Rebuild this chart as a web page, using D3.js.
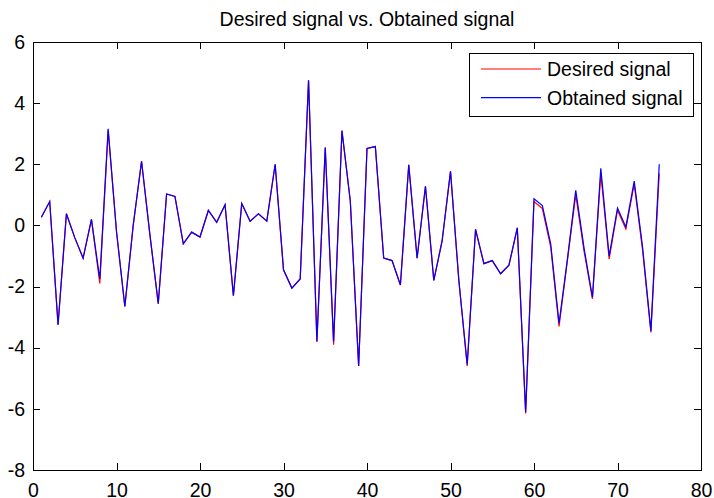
<!DOCTYPE html>
<html>
<head>
<meta charset="utf-8">
<script src="https://cdn.jsdelivr.net/npm/d3@7"></script>
<style>
  html, body { margin: 0; padding: 0; background: #fff; }
  svg { display: block; font-family: "Liberation Sans", Arial, sans-serif; }
</style>
</head>
<body>
<svg id="chart" width="714" height="498"></svg>
<script>
/* ── Data ────────────────────────────────────────── */
const sampleIndex = [
   1,  2,  3,  4,  5,  6,  7,  8,  9, 10, 11, 12, 13, 14, 15,
  16, 17, 18, 19, 20, 21, 22, 23, 24, 25, 26, 27, 28, 29, 30,
  31, 32, 33, 34, 35, 36, 37, 38, 39, 40, 41, 42, 43, 44, 45,
  46, 47, 48, 49, 50, 51, 52, 53, 54, 55, 56, 57, 58, 59, 60,
  61, 62, 63, 64, 65, 66, 67, 68, 69, 70, 71, 72, 73, 74, 75
];

const desiredSignal = [
   0.27,  0.78, -3.25,  0.38, -0.40, -1.07,  0.20, -1.90,  3.10, -0.20,
  -2.65,  0.00,  2.10, -0.30, -2.56,  1.03,  0.95, -0.60, -0.22, -0.38,
   0.49,  0.10,  0.68, -2.30,  0.72,  0.14,  0.38,  0.14,  2.00, -1.45,
  -2.05, -1.75,  4.75, -3.80,  2.55, -3.90,  3.10,  0.80, -4.60,  2.52,
   2.58, -1.07, -1.15, -1.95,  1.98, -1.07,  1.28, -1.80, -0.50,  1.77,
  -1.80, -4.60, -0.13, -1.25, -1.15, -1.58, -1.30, -0.08, -6.15,  0.78,
   0.55, -0.70, -3.30, -1.15,  1.00, -0.85, -2.40,  1.70, -1.10,  0.50,
  -0.12,  1.35, -0.80, -3.50,  1.70
];

const obtainedSignal = [
   0.27,  0.78, -3.25,  0.38, -0.40, -1.07,  0.20, -1.75,  3.16, -0.20,
  -2.65,  0.00,  2.10, -0.30, -2.56,  1.03,  0.95, -0.60, -0.22, -0.38,
   0.49,  0.10,  0.68, -2.30,  0.72,  0.14,  0.38,  0.14,  2.00, -1.45,
  -2.05, -1.75,  4.75, -3.80,  2.55, -3.80,  3.10,  0.80, -4.60,  2.52,
   2.58, -1.07, -1.15, -1.95,  1.98, -1.07,  1.28, -1.80, -0.50,  1.77,
  -1.80, -4.55, -0.13, -1.25, -1.15, -1.58, -1.30, -0.08, -6.10,  0.87,
   0.65, -0.60, -3.20, -1.10,  1.15, -0.75, -2.35,  1.87, -1.00,  0.57,
  -0.05,  1.45, -0.70, -3.45,  2.00
];

const xTicks = [0, 10, 20, 30, 40, 50, 60, 70, 80];
const yTicks = [-8, -6, -4, -2, 0, 2, 4, 6];

const seriesNames  = ["Desired signal", "Obtained signal"];
const seriesColors = ["#ff0000", "#0000ff"];

/* ── Layout ─────────────────────────────────────── */
const svg = d3.select("#chart");
const plotLeft = 33, plotRight = 701, plotTop = 42, plotBottom = 470;
const tickLen = 7;
const fontSize = 19.5;
const plainNumber = d => String(d);   // hyphen minus, like the reference

const x = d3.scaleLinear().domain([0, 80]).range([plotLeft, plotRight]);
const y = d3.scaleLinear().domain([-8, 6]).range([plotBottom, plotTop]);

/* ── Axes box with inward ticks on all sides ───── */
svg.append("g")
    .attr("transform", `translate(0,${plotBottom})`)
    .call(d3.axisBottom(x).tickValues(xTicks).tickFormat(plainNumber)
        .tickSizeInner(-tickLen).tickSizeOuter(0).tickPadding(13))
    .call(g => g.select(".domain").remove());

svg.append("g")
    .attr("transform", `translate(0,${plotTop})`)
    .call(d3.axisTop(x).tickValues(xTicks).tickSizeInner(-tickLen).tickSizeOuter(0).tickFormat(""))
    .call(g => g.select(".domain").remove());

svg.append("g")
    .attr("transform", `translate(${plotLeft},0)`)
    .call(d3.axisLeft(y).tickValues(yTicks).tickFormat(plainNumber)
        .tickSizeInner(-tickLen).tickSizeOuter(0).tickPadding(8))
    .call(g => g.select(".domain").remove());

svg.append("g")
    .attr("transform", `translate(${plotRight},0)`)
    .call(d3.axisRight(y).tickValues(yTicks).tickSizeInner(-tickLen).tickSizeOuter(0).tickFormat(""))
    .call(g => g.select(".domain").remove());

svg.selectAll(".tick line").attr("stroke", "#000").attr("shape-rendering", "crispEdges");
svg.selectAll(".tick text").attr("font-size", fontSize).attr("fill", "#000")
    .attr("font-family", "'Liberation Sans', Arial, sans-serif");

svg.append("rect")
    .attr("x", plotLeft).attr("y", plotTop)
    .attr("width", plotRight - plotLeft).attr("height", plotBottom - plotTop)
    .attr("fill", "none").attr("stroke", "#000")
    .attr("shape-rendering", "crispEdges");

/* ── Signals ────────────────────────────────────── */
const line = d3.line().x(d => x(d[0])).y(d => y(d[1]));
[desiredSignal, obtainedSignal].forEach((values, i) => {
    svg.append("path")
        .datum(sampleIndex.map((k, j) => [k, values[j]]))
        .attr("d", line)
        .attr("fill", "none")
        .attr("stroke", seriesColors[i])
        .attr("stroke-width", 1.2);
});

/* ── Title ──────────────────────────────────────── */
svg.append("text")
    .attr("x", (plotLeft + plotRight) / 2).attr("y", 26)
    .attr("text-anchor", "middle")
    .attr("font-size", fontSize)
    .text("Desired signal vs. Obtained signal");

/* ── Legend ─────────────────────────────────────── */
const legend = svg.append("g").attr("transform", "translate(469,53)");
legend.append("rect")
    .attr("width", 224).attr("height", 63)
    .attr("fill", "#fff").attr("stroke", "#000")
    .attr("shape-rendering", "crispEdges");
seriesNames.forEach((name, i) => {
    const ly = 16 + i * 28.7;
    legend.append("line")
        .attr("x1", 12).attr("x2", 72).attr("y1", ly).attr("y2", ly)
        .attr("stroke", seriesColors[i]).attr("stroke-width", 1.2);
    legend.append("text")
        .attr("x", 78).attr("y", ly + 7)
        .attr("font-size", fontSize)
        .text(name);
});
</script>
</body>
</html>
